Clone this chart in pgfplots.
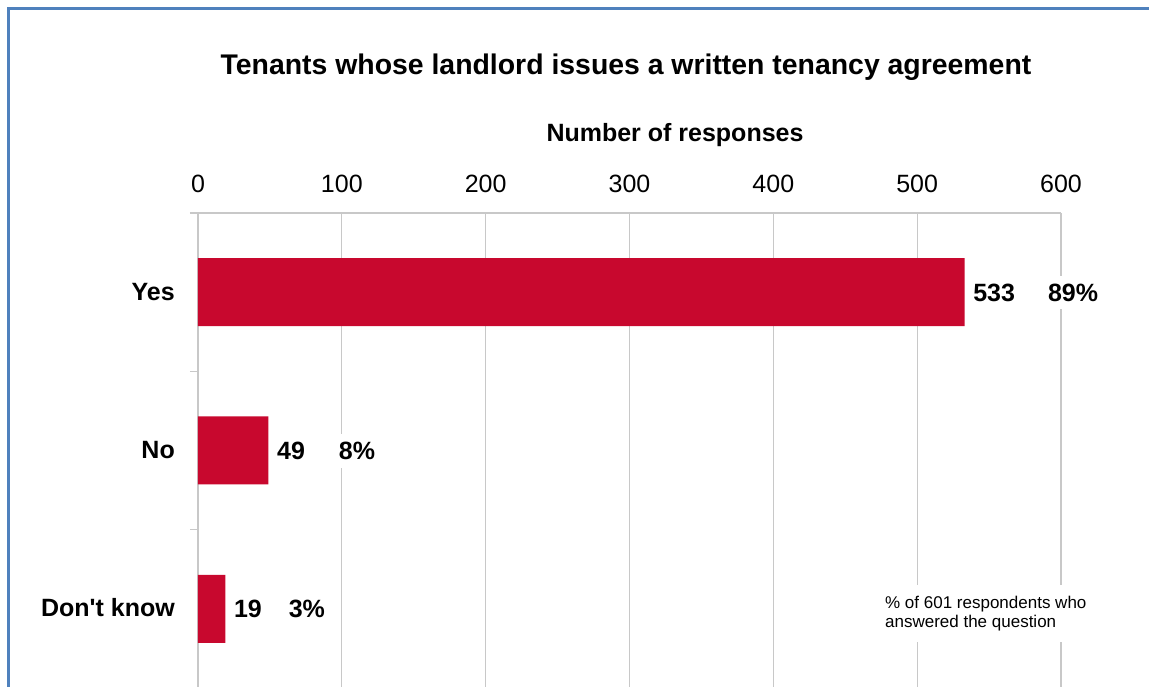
\documentclass[border=0pt]{standalone}
\usepackage{fontspec}
\setmainfont{Liberation Sans}
\usepackage{pgfplots}
\pgfplotsset{compat=1.18}
\definecolor{barred}{RGB}{200,8,46}
\definecolor{gridgray}{RGB}{200,200,200}
\definecolor{frameblue}{RGB}{79,129,189}
\begin{document}
\begin{tikzpicture}
\path[use as bounding box] (0,0) rectangle (1149pt,686pt);
\begin{scope}
\clip (0,0) rectangle (1149pt,686pt);
\begin{axis}[
 at={(198pt,-2pt)}, anchor=south west,
 scale only axis, width=863pt, height=475pt,
 xmin=0, xmax=600, ymin=-0.5, ymax=2.5,
 axis x line*=top, axis y line*=left,
 axis line style={gridgray, line width=1.2pt},
 xtick={0,100,...,600},
 ytick={0,1,2}, yticklabels={Don\textquotesingle t know, No, Yes},
 minor ytick={-0.5,0.5,1.5,2.5},
 major tick length=0pt, minor tick length=8pt,
 tick align=outside,
 tick style={gridgray, line width=1.2pt},
 xmajorgrids, grid style={gridgray, line width=1.2pt},
 xticklabel style={font=\fontsize{25}{30}\selectfont, anchor=base, yshift=20pt, inner sep=0pt},
 yticklabel style={font=\fontsize{25}{30}\selectfont\bfseries, anchor=base east, xshift=-23pt, yshift=-8pt, inner sep=0pt},
 /pgf/number format/assume math mode=true,
 xbar, bar width=68pt,
 point meta=explicit symbolic,
 nodes near coords,
 nodes near coords style={font=\fontsize{25}{30}\selectfont\bfseries, anchor=base west, xshift=8.5pt, yshift=-9pt, fill=white, inner xsep=0pt, inner ysep=8pt},
 clip=false,
]
\addplot[fill=barred, draw=none] coordinates {(533,2) [533\hspace{33pt}89\%] (49,1) [49\hspace{34pt}8\%] (19,0) [19\hspace{27pt}3\%]};
\node[anchor=west, align=left, font=\fontsize{17}{19}\selectfont, fill=white, inner xsep=0pt, inner ysep=11pt] at (axis cs:477.6,-0.032) {\% of 601 respondents who\\answered the question};
\end{axis}
\node[anchor=base, font=\fontsize{28.4}{34}\selectfont\bfseries] at (626pt,611pt) {Tenants whose landlord issues a written tenancy agreement};
\node[anchor=base, font=\fontsize{25}{30}\selectfont\bfseries] at (675pt,544pt) {Number of responses};
\draw[frameblue, line width=2.5pt] (8.5pt,-20pt) -- (8.5pt,677.5pt) -- (1170pt,677.5pt);
\end{scope}
\end{tikzpicture}
\end{document}
